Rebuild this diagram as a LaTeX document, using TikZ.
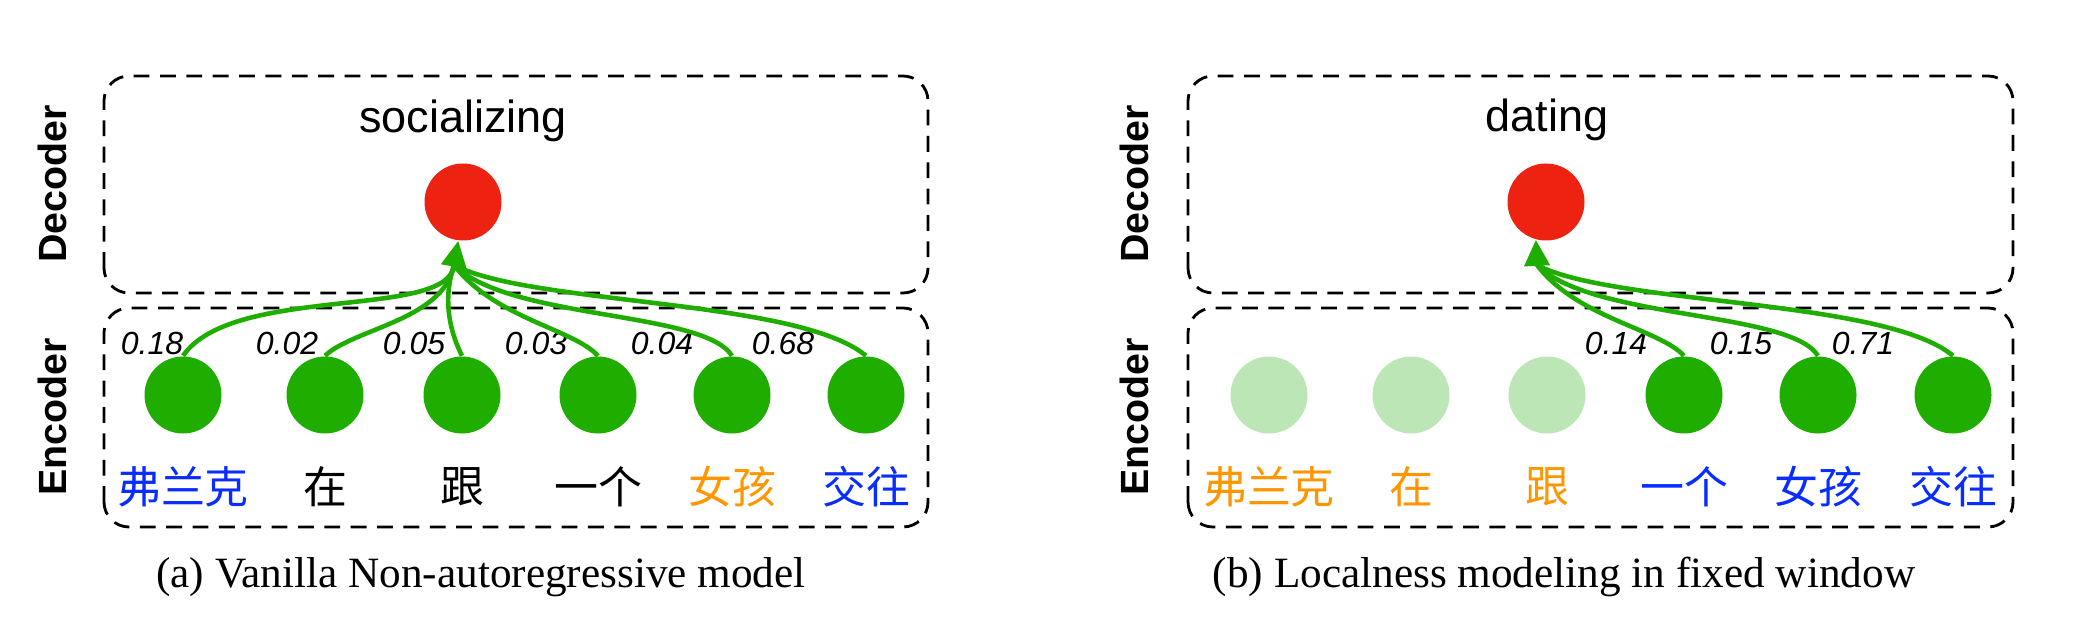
\documentclass[tikz,border=0pt]{standalone}
\usepackage{fontspec}
\setmainfont{Liberation Serif}
\setsansfont{Liberation Sans}
\newfontfamily\zhfont{Noto Sans CJK SC}
\usetikzlibrary{arrows.meta}

\definecolor{tokgreen}{RGB}{31,174,0}
\definecolor{palegreen}{RGB}{189,230,182}
\definecolor{outred}{RGB}{238,34,17}
\definecolor{zhblue}{RGB}{10,45,255}
\definecolor{zhorange}{RGB}{255,150,0}

\begin{document}
\begin{tikzpicture}[
    frame/.style={draw, dash pattern=on 4.5pt off 3pt, line width=0.8pt, rounded corners=0.25cm},
    tok/.style={circle, fill=tokgreen, minimum size=0.77cm, inner sep=0pt},
    faded/.style={tok, fill=palegreen},
    redtok/.style={circle, fill=outred, minimum size=0.77cm, inner sep=0pt},
    word/.style={font=\zhfont\fontsize{12.5}{14}\selectfont, inner sep=0pt},
    weight/.style={font=\sffamily\itshape\fontsize{9.1}{11}\selectfont, inner sep=0pt},
    side/.style={font=\sffamily\bfseries\fontsize{11.2}{13}\selectfont, rotate=90, inner sep=0pt},
    target/.style={font=\sffamily\fontsize{12.8}{15}\selectfont, anchor=base, inner sep=0pt},
    caption/.style={font=\fontsize{12.3}{14}\selectfont, anchor=base, inner sep=0pt},
    link/.style={draw=tokgreen, line width=1.3pt},
    arrowlink/.style={link, -{Triangle[length=2.6mm, width=2.5mm]}}
  ]
    \useasboundingbox (0,0) rectangle (20.90,6.26);

    \draw [frame] (1.04,3.33) rectangle (9.28,5.50);
    \draw [frame] (1.04,0.99) rectangle (9.28,3.18);
    \draw [frame] (11.88,3.33) rectangle (20.13,5.50);
    \draw [frame] (11.88,0.99) rectangle (20.13,3.18);

    \node [side] (decA) at (0.52,4.42) {Decoder};
    \node [side] (encA) at (0.52,2.09) {Encoder};
    \node [side] (decB) at (11.34,4.42) {Decoder};
    \node [side] (encB) at (11.34,2.09) {Encoder};

    \node [target] (tA) at (4.63,4.93) {socializing};
    \node [redtok] (yA) at (4.63,4.24) {};
    \node [target] (tB) at (15.47,4.94) {dating};
    \node [redtok] (yB) at (15.46,4.24) {};

    \node [tok] (a1) at (1.83,2.31) {};
    \node [tok] (a2) at (3.25,2.31) {};
    \node [tok] (a3) at (4.62,2.31) {};
    \node [tok] (a4) at (5.98,2.31) {};
    \node [tok] (a5) at (7.32,2.31) {};
    \node [tok] (a6) at (8.66,2.31) {};

    \node [faded] (b1) at (12.69,2.31) {};
    \node [faded] (b2) at (14.11,2.31) {};
    \node [faded] (b3) at (15.47,2.31) {};
    \node [tok] (b4) at (16.84,2.31) {};
    \node [tok] (b5) at (18.18,2.31) {};
    \node [tok] (b6) at (19.53,2.31) {};

    \node [word, text=zhblue] (wa1) at (1.83,1.39) {弗兰克};
    \node [word] (wa2) at (3.25,1.39) {在};
    \node [word] (wa3) at (4.62,1.39) {跟};
    \node [word] (wa4) at (5.98,1.39) {一个};
    \node [word, text=zhorange] (wa5) at (7.32,1.39) {女孩};
    \node [word, text=zhblue] (wa6) at (8.66,1.39) {交往};

    \node [word, text=zhorange] (wb1) at (12.69,1.39) {弗兰克};
    \node [word, text=zhorange] (wb2) at (14.11,1.39) {在};
    \node [word, text=zhorange] (wb3) at (15.47,1.39) {跟};
    \node [word, text=zhblue] (wb4) at (16.84,1.39) {一个};
    \node [word, text=zhblue] (wb5) at (18.18,1.39) {女孩};
    \node [word, text=zhblue] (wb6) at (19.53,1.39) {交往};

    \node [weight] (pa1) at (1.52,2.83) {0.18};
    \node [weight] (pa2) at (2.87,2.83) {0.02};
    \node [weight] (pa3) at (4.14,2.83) {0.05};
    \node [weight] (pa4) at (5.36,2.83) {0.03};
    \node [weight] (pa5) at (6.62,2.83) {0.04};
    \node [weight] (pa6) at (7.83,2.83) {0.68};

    \node [weight] (pb4) at (16.16,2.83) {0.14};
    \node [weight] (pb5) at (17.41,2.83) {0.15};
    \node [weight] (pb6) at (18.63,2.83) {0.71};

    \coordinate (hA) at (4.54,3.61);
    \coordinate (hB) at (15.37,3.61);

    \draw [link] (a1.north) .. controls +(0.50,0.72) and +(-0.05,-0.55) .. (hA);
    \draw [link] (a2.north) .. controls +(0.28,0.27) and +(-0.10,-0.55) .. (hA);
    \draw [link] (a3.north) .. controls +(-0.15,0.30) and +(-0.10,-0.30) .. (hA);
    \draw [link] (a4.north) .. controls +(-0.25,0.27) and +(0.40,-0.53) .. (hA);
    \draw [link] (a5.north) .. controls +(-0.28,0.45) and +(0.55,-0.55) .. (hA);
    \draw [link] (a6.north) .. controls +(-0.68,0.57) and +(0.75,-0.40) .. (hA);
    \draw [arrowlink] (hA) -- (yA.263);

    \draw [link] (b4.north) .. controls +(-0.25,0.27) and +(0.40,-0.53) .. (hB);
    \draw [link] (b5.north) .. controls +(-0.28,0.45) and +(0.55,-0.55) .. (hB);
    \draw [link] (b6.north) .. controls +(-0.68,0.57) and +(0.75,-0.40) .. (hB);
    \draw [arrowlink] (hB) -- (yB.255);

    \node [caption] (capA) at (4.81,0.39) {(a) Vanilla Non-autoregressive model};
    \node [caption] (capB) at (15.64,0.39) {(b) Localness modeling in fixed window};
  \end{tikzpicture}
\end{document}
